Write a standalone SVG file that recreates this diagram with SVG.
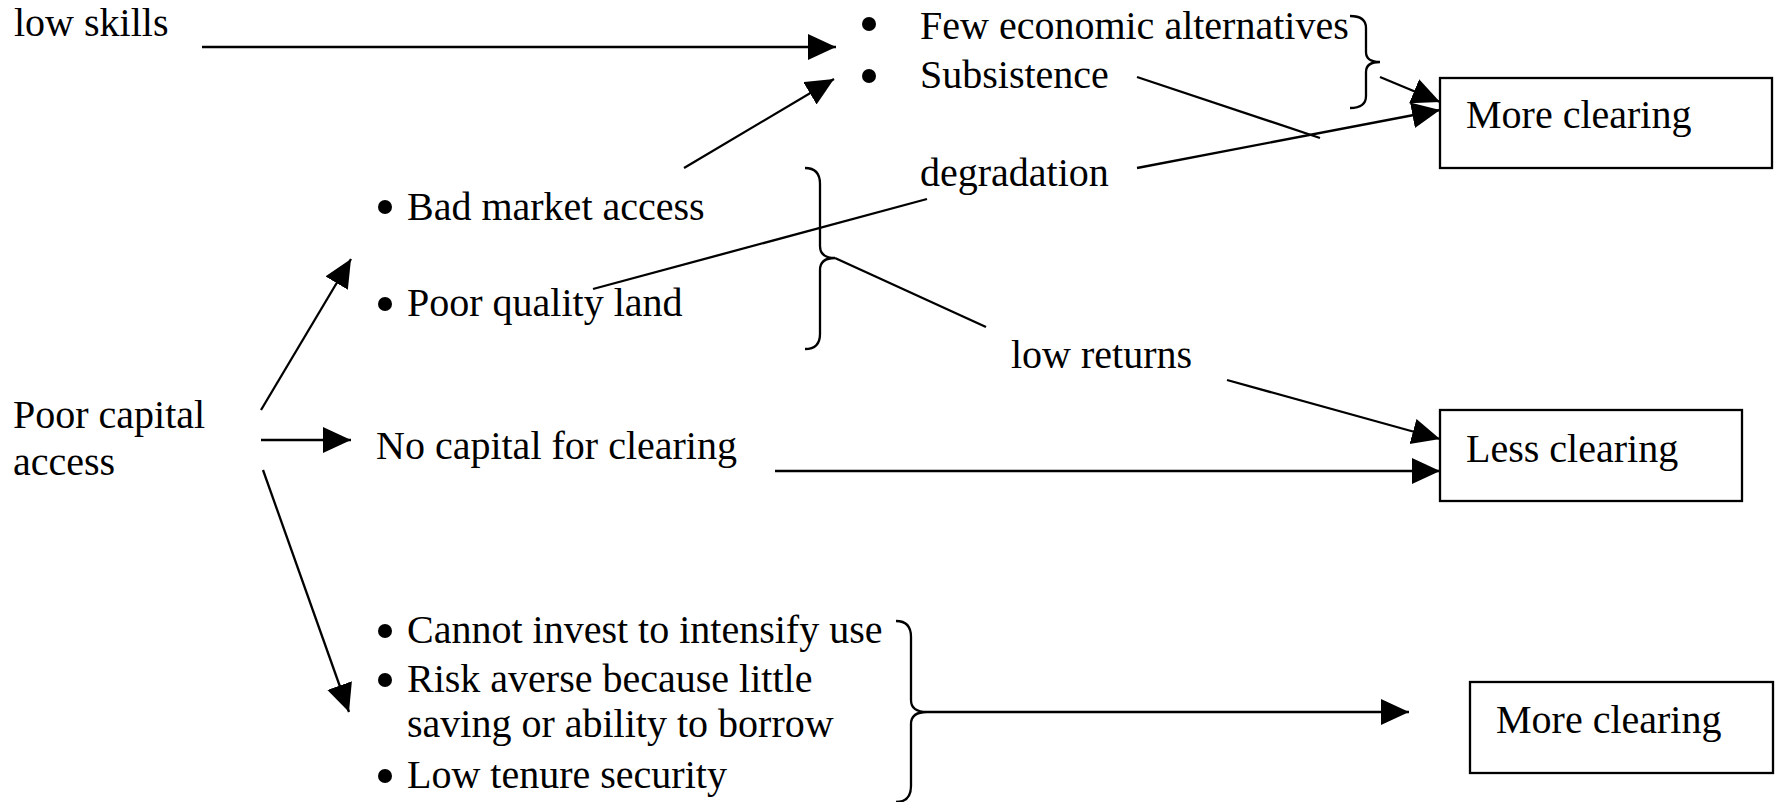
<svg xmlns="http://www.w3.org/2000/svg" width="1777" height="802" viewBox="0 0 1777 802">
<style>
text{font-family:"Liberation Serif","Times New Roman",serif;font-size:40px;fill:#000}
.bl{fill:#000}
.ln{stroke:#000;stroke-width:2.3;fill:none}
.br{stroke:#000;stroke-width:2.3;fill:none}
.box{stroke:#000;stroke-width:2.3;fill:#fff}
.ar{marker-end:url(#ah)}
</style>
<defs>
<marker id="ah" markerUnits="userSpaceOnUse" markerWidth="30" markerHeight="28" refX="28" refY="13" orient="auto">
<path d="M0,0 L28,13 L0,26 Z" fill="#000"/>
</marker>
</defs>
<rect width="1777" height="802" fill="#fff"/>
<g id="n-lowskills"><text x="14" y="36">low skills</text></g>
<g id="n-few">
<circle class="bl" cx="869" cy="24" r="7"/><text x="920" y="39">Few economic alternatives</text>
<circle class="bl" cx="869" cy="76" r="7"/><text x="920" y="88">Subsistence</text>
<path class="br" d="M1350,16 Q1366,16 1366,28 L1366,52 Q1366,62 1380,62 Q1366,62 1366,72 L1366,96 Q1366,108 1350,108"/>
</g>
<g id="n-degradation"><text x="920" y="186">degradation</text></g>
<g id="n-more1"><rect class="box" x="1440" y="78" width="332" height="90"/><text x="1466" y="128">More clearing</text></g>
<g id="n-market">
<circle class="bl" cx="385" cy="207" r="7"/><text x="407" y="220">Bad market access</text>
<circle class="bl" cx="385" cy="304" r="7"/><text x="407" y="316">Poor quality land</text>
<path class="br" d="M805,168 Q820,168 820,184 L820,246 Q820,258 835,258 Q820,258 820,270 L820,334 Q820,349 805,349"/>
</g>
<g id="n-lowreturns"><text x="1011" y="368">low returns</text></g>
<g id="n-less"><rect class="box" x="1440" y="410" width="302" height="91"/><text x="1466" y="462">Less clearing</text></g>
<g id="n-poorcap"><text x="13" y="428">Poor capital</text><text x="13" y="475">access</text></g>
<g id="n-nocap"><text x="376" y="459">No capital for clearing</text></g>
<g id="n-cannot">
<circle class="bl" cx="385" cy="631" r="7"/><text x="407" y="643">Cannot invest to intensify use</text>
<circle class="bl" cx="385" cy="680" r="7"/><text x="407" y="692">Risk averse because little</text>
<text x="407" y="737">saving or ability to borrow</text>
<circle class="bl" cx="385" cy="776" r="7"/><text x="407" y="788">Low tenure security</text>
<path class="br" d="M896,621 Q911,621 911,637 L911,700 Q911,712 927,712 Q911,712 911,724 L911,786 Q911,802 896,802"/>
</g>
<g id="n-more3"><rect class="box" x="1470" y="682" width="303" height="91"/><text x="1496" y="733">More clearing</text></g>
<g id="connectors">
<line class="ln ar" x1="202" y1="47" x2="836" y2="47"/>
<line class="ln ar" x1="684" y1="168" x2="834" y2="79"/>
<line class="ln" x1="1137" y1="77" x2="1320" y2="138"/>
<line class="ln ar" x1="1380" y1="77" x2="1440" y2="102"/>
<line class="ln ar" x1="1137" y1="168" x2="1440" y2="110"/>
<line class="ln" x1="593" y1="289" x2="927" y2="199"/>
<line class="ln" x1="835" y1="258" x2="986" y2="327"/>
<line class="ln ar" x1="1227" y1="380" x2="1440" y2="439"/>
<line class="ln ar" x1="261" y1="410" x2="351" y2="259"/>
<line class="ln ar" x1="261" y1="440" x2="351" y2="440"/>
<line class="ln ar" x1="263" y1="470" x2="349" y2="712"/>
<line class="ln ar" x1="775" y1="471" x2="1440" y2="471"/>
<line class="ln ar" x1="927" y1="712" x2="1409" y2="712"/>
</g>
</svg>
